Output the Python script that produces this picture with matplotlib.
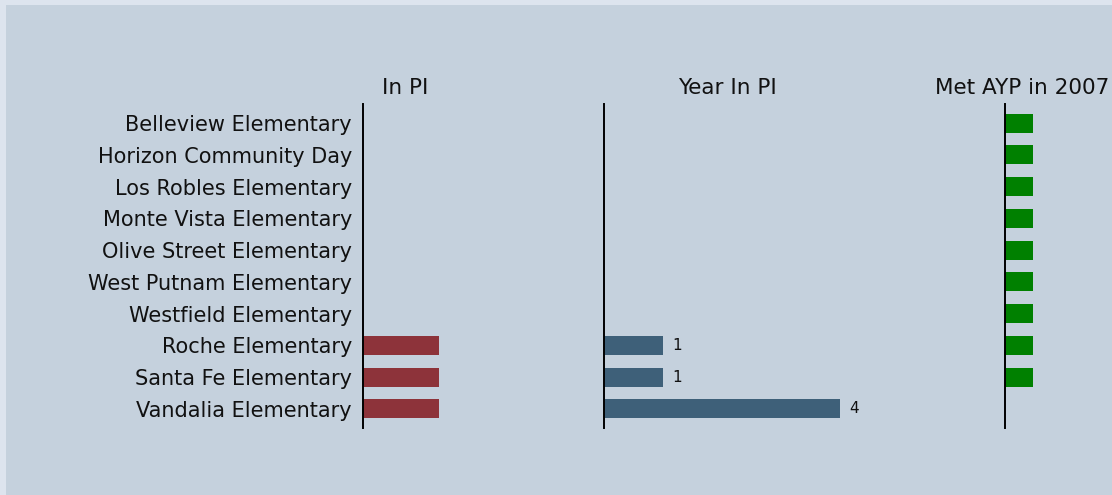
import matplotlib.pyplot as plt
from matplotlib.patches import Rectangle

schools = [
    "Belleview Elementary", "Horizon Community Day", "Los Robles Elementary",
    "Monte Vista Elementary", "Olive Street Elementary", "West Putnam Elementary",
    "Westfield Elementary", "Roche Elementary", "Santa Fe Elementary",
    "Vandalia Elementary",
]
in_pi = [0, 0, 0, 0, 0, 0, 0, 1, 1, 1]
years_in_pi = [0, 0, 0, 0, 0, 0, 0, 1, 1, 4]
met_ayp_2007 = [1, 1, 1, 1, 1, 1, 1, 1, 1, 0]

panel_titles = ["In PI", "Year In PI", "Met AYP in 2007"]
colors = ["#8d333a", "#3e6079", "#008000"]

W, H = 1112, 495
fig = plt.figure(figsize=(W / 100, H / 100), dpi=100)
fig.patch.set_facecolor("#dde4ee")
fig.patches.append(Rectangle((6 / W, 0), 1, 1 - 5 / H, transform=fig.transFigure,
                             facecolor="#c5d1dd", edgecolor="none", zorder=-10))

# axes placement in pixels: left edge, width, and x upper limit
panels = [(363, 84, 1.105), (604, 246, 4.17), (1005, 34, 1.21)]
top, bottom = 104, 428
series = [in_pi, years_in_pi, met_ayp_2007]
ypos = list(range(len(schools)))

for i, ((left, width, xmax), vals) in enumerate(zip(panels, series)):
    ax = fig.add_axes([left / W, (H - bottom) / H, width / W, (bottom - top) / H])
    ax.set_facecolor("none")
    ax.barh(ypos, vals, height=0.6, color=colors[i], edgecolor="none")
    ax.set_xlim(0, xmax)
    ax.set_ylim(len(schools) - 0.4, -0.6)
    for s in ["top", "right", "bottom"]:
        ax.spines[s].set_visible(False)
    ax.spines["left"].set_linewidth(1.4)
    ax.set_xticks([])
    ax.tick_params(axis="y", length=0, pad=8)
    ax.set_yticks(ypos)
    if i == 0:
        ax.set_yticklabels(schools, fontsize=15, color="#111111")
    else:
        ax.set_yticklabels([])
    ax.set_title(panel_titles[i], fontsize=15.5, pad=7, color="#111111")
    if i == 1:
        for y, v in zip(ypos, vals):
            if v:
                ax.annotate(str(v), (v, y), xytext=(7, 0), textcoords="offset points",
                            ha="left", va="center", fontsize=11, color="#111111")

fig.savefig("out.png", dpi=100, facecolor=fig.get_facecolor())
